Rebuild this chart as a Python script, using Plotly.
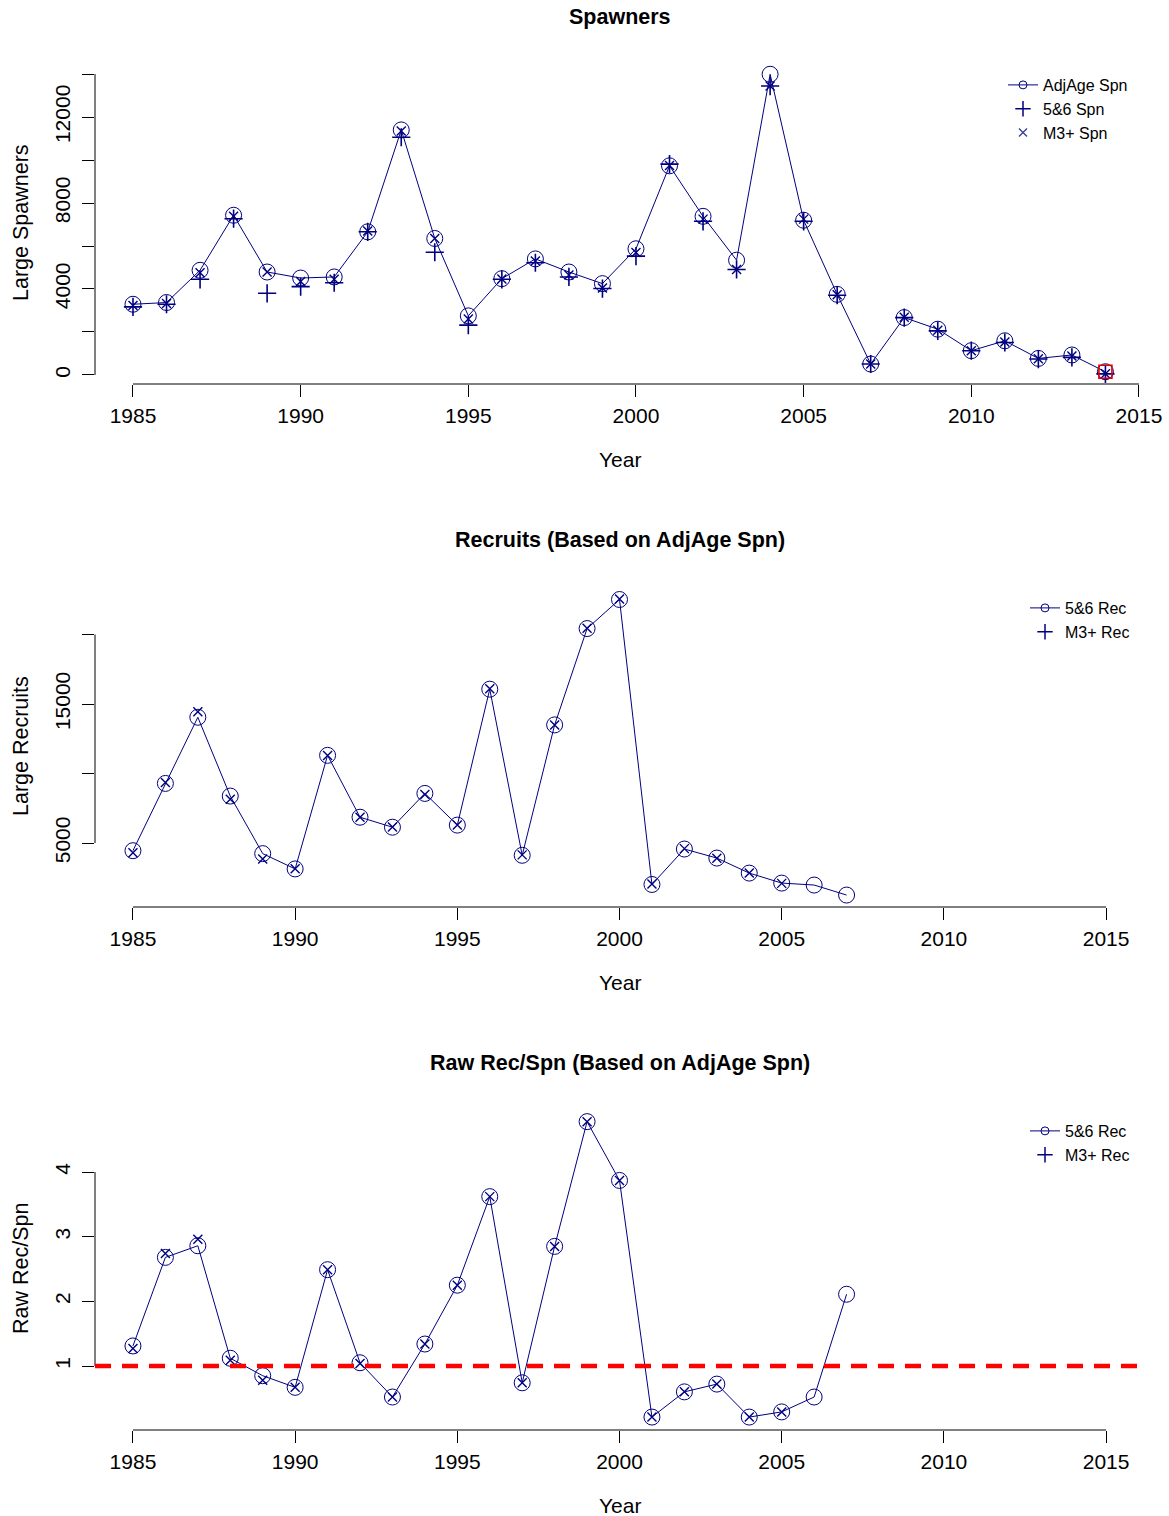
import plotly.graph_objects as go

# ---- data -------------------------------------------------------------
spawner_years = list(range(1985, 2015))
adjage_spn = [3290, 3370, 4870, 7430, 4790, 4510, 4560, 6660, 11400, 6350,
              2750, 4480, 5400, 4790, 4250, 5870, 9730, 7380, 5340, 13990,
              7200, 3750, 510, 2670, 2130, 1130, 1590, 770, 930, 150]
spn_56 = [3170, 3290, 4450, 7270, 3800, 4110, 4290, 6660, 11060, 5710,
          2320, 4450, 5220, 4560, 4020, 5530, 9810, 7150, 4910, 13440,
          7150, 3710, 510, 2670, 2050, 1130, 1510, 740, 820, 50]
spn_m3 = [3230, 3330, 4760, 7380, 4790, 4350, 4450, 6700, 11350, 6350,
          2600, 4470, 5300, 4650, 4050, 5700, 9750, 7250, 4910, 13440,
          7250, 3730, 510, 2690, 2080, 1130, 1530, 750, 880, 60]
flag_year = [2014]
flag_spn = [150]

recruit_years = list(range(1985, 2008))
rec_56 = [4450, 9290, 14050, 8380, 4240, 3140, 11310, 6860, 6140, 8570,
          6290, 16070, 4120, 13500, 20430, 22520, 2020, 4570, 3920, 2840,
          2120, 1980, 1260]
m3_years = list(range(1985, 2006))
rec_m3 = [4300, 9350, 14450, 8150, 3850, 3150, 11300, 6850, 6150, 8500,
          6300, 16100, 4150, 13500, 20450, 22550, 2050, 4600, 3900, 2850,
          2100]

rps_56 = [1.31, 2.68, 2.86, 1.12, 0.85, 0.67, 2.49, 1.05, 0.52, 1.34,
          2.25, 3.62, 0.74, 2.85, 4.78, 3.87, 0.21, 0.60, 0.72, 0.21,
          0.29, 0.52, 2.11]
rps_m3 = [1.27, 2.74, 2.96, 1.09, 0.78, 0.67, 2.49, 1.04, 0.52, 1.34,
          2.25, 3.62, 0.74, 2.85, 4.78, 3.87, 0.21, 0.60, 0.72, 0.21,
          0.29]
replacement = 1

year_ticks = [1985, 1990, 1995, 2000, 2005, 2010, 2015]
spn_ticks = [0, 2000, 4000, 6000, 8000, 10000, 12000, 14000]
spn_labels = ["0", "", "4000", "", "8000", "", "12000", ""]
rec_ticks = [5000, 10000, 15000, 20000]
rec_labels = ["5000", "", "15000", ""]
rps_ticks = [1, 2, 3, 4]
rps_labels = ["1", "2", "3", "4"]

# ---- styling ----------------------------------------------------------
NAVY = "#000080"
FONT = "Liberation Sans, Arial, sans-serif"
W, H = 1169, 1516


def py(px):
    """pixel row -> paper fraction"""
    return 1 - px / H


fig = go.Figure()


def add_panel(xa, ya, xs, circ, xs_x, xvals, legend, names, cross_val=None,
              xs_plus=None):
    fig.add_trace(go.Scatter(
        x=xs, y=circ, mode="lines+markers", xaxis=xa, yaxis=ya,
        line=dict(color=NAVY, width=1),
        marker=dict(symbol="circle-open", size=16, color=NAVY,
                    line=dict(width=1, color=NAVY)),
        showlegend=False, name=names[0]))
    if cross_val is not None:
        fig.add_trace(go.Scatter(
            x=xs_plus, y=cross_val, mode="markers", xaxis=xa, yaxis=ya,
            marker=dict(symbol="cross-thin-open", size=13, color=NAVY,
                        line=dict(width=1.6, color=NAVY)),
            showlegend=False, name=names[1]))
    fig.add_trace(go.Scatter(
        x=xs_x, y=xvals, mode="markers", xaxis=xa, yaxis=ya,
        marker=dict(symbol="x-thin-open", size=9, color=NAVY,
                    line=dict(width=1.4, color=NAVY)),
        showlegend=False, name=names[-1]))
    # legend keys
    fig.add_trace(go.Scatter(
        x=[None], y=[None], mode="lines+markers", xaxis=xa, yaxis=ya,
        line=dict(color=NAVY, width=1),
        marker=dict(symbol="circle-open", size=8, color=NAVY,
                    line=dict(width=1, color=NAVY)),
        name=names[0], legend=legend))
    fig.add_trace(go.Scatter(
        x=[None], y=[None], mode="markers", xaxis=xa, yaxis=ya,
        marker=dict(symbol="cross-thin-open", size=11, color=NAVY,
                    line=dict(width=1.5, color=NAVY)),
        name=names[1], legend=legend))
    if len(names) > 2:
        fig.add_trace(go.Scatter(
            x=[None], y=[None], mode="markers", xaxis=xa, yaxis=ya,
            marker=dict(symbol="x-thin-open", size=8, color="#3a3a9a",
                        line=dict(width=1.3, color="#3a3a9a")),
            name=names[2], legend=legend))


# Spawners panel
add_panel("x", "y", spawner_years, adjage_spn, spawner_years, spn_m3,
          "legend", ["AdjAge Spn", "5&6 Spn", "M3+ Spn"],
          cross_val=spn_56, xs_plus=spawner_years)
fig.add_trace(go.Scatter(
    x=flag_year, y=flag_spn, mode="markers", xaxis="x", yaxis="y",
    marker=dict(symbol="square-open", size=13, color="#e00000",
                line=dict(width=1.6, color="#e00000")),
    showlegend=False, name="flag"))

# Recruits panel
add_panel("x2", "y2", recruit_years, rec_56, m3_years, rec_m3,
          "legend2", ["5&6 Rec", "M3+ Rec"])

# Recruits per spawner panel
add_panel("x3", "y3", recruit_years, rps_56, m3_years, rps_m3,
          "legend3", ["5&6 Rec", "M3+ Rec"])

# ---- axes -------------------------------------------------------------
xdom = [95 / W, 1145 / W]
panels = [
    # (suffix, top px, bottom px, x range, y range, y ticks, y labels)
    ("", 62, 384, [1983.867, 2015.18], [-420, 14560], spn_ticks, spn_labels),
    ("2", 587, 907, [1983.83, 2016.2], [400, 23420], rec_ticks, rec_labels),
    ("3", 1110, 1430, [1983.83, 2016.2], [0.01, 4.96], rps_ticks, rps_labels),
]

tick_font = dict(family=FONT, size=21, color="black")
layout_axes = {}
shapes = []
for suf, top, bot, xr, yr, yt, yl in panels:
    xname = "x" + suf
    yname = "y" + suf
    layout_axes["xaxis" + suf] = dict(
        domain=xdom, range=xr, anchor=yname, showgrid=False, zeroline=False,
        showline=False, ticks="outside", ticklen=12, tickwidth=1,
        tickcolor="black", tickvals=year_ticks,
        ticktext=[str(v) for v in year_ticks], tickfont=tick_font,
        ticklabelstandoff=1, automargin=False, fixedrange=True)
    layout_axes["yaxis" + suf] = dict(
        domain=[py(bot), py(top)], range=yr, anchor=xname, showgrid=False,
        zeroline=False, showline=False, ticks="outside", ticklen=12,
        tickwidth=1, tickcolor="black", tickvals=yt, ticktext=yl,
        tickangle=-90, tickfont=tick_font, ticklabelstandoff=4,
        automargin=False, fixedrange=True)
    # axis lines spanning first to last tick
    shapes.append(dict(type="line", xref=xname, yref=yname + " domain",
                       x0=year_ticks[0], x1=year_ticks[-1], y0=0, y1=0,
                       line=dict(color="black", width=1)))
    shapes.append(dict(type="line", xref=xname + " domain", yref=yname,
                       x0=0, x1=0, y0=yt[0], y1=yt[-1],
                       line=dict(color="black", width=1)))

# replacement line
shapes.append(dict(type="line", xref="x3 domain", yref="y3", x0=0, x1=1,
                   y0=replacement, y1=replacement, layer="above",
                   line=dict(color="#ff0000", width=4.5, dash="16px,11px")))

# ---- titles -----------------------------------------------------------
annotations = []
titles = [("Spawners", 17), ("Recruits (Based on AdjAge Spn)", 540),
          ("Raw Rec/Spn (Based on AdjAge Spn)", 1063)]
for text, ypx in titles:
    annotations.append(dict(text="<b>" + text + "</b>", x=620 / W, y=py(ypx),
                            xref="paper", yref="paper", showarrow=False,
                            xanchor="center", yanchor="middle",
                            font=dict(family=FONT, size=21.5, color="black")))
for ypx in (459, 982, 1505):
    annotations.append(dict(text="Year", x=620 / W, y=py(ypx), xref="paper",
                            yref="paper", showarrow=False, xanchor="center",
                            yanchor="middle",
                            font=dict(family=FONT, size=21, color="black")))
for text, ypx in [("Large Spawners", 223), ("Large Recruits", 746),
                  ("Raw Rec/Spn", 1269)]:
    annotations.append(dict(text=text, x=21 / W, y=py(ypx), xref="paper",
                            yref="paper", showarrow=False, xanchor="center",
                            yanchor="middle", textangle=-90,
                            font=dict(family=FONT, size=21.5, color="black")))

legend_style = dict(font=dict(family=FONT, size=16, color="black"),
                    bgcolor="rgba(0,0,0,0)", borderwidth=0,
                    xanchor="left", yanchor="top", tracegroupgap=0,
                    itemclick=False, itemdoubleclick=False)

fig.update_layout(
    width=W, height=H, autosize=False,
    margin=dict(l=0, r=0, t=0, b=0, autoexpand=False),
    paper_bgcolor="white", plot_bgcolor="white",
    font=dict(family=FONT, color="black"),
    showlegend=True,
    legend=dict(x=1003 / W, y=py(68), **legend_style),
    legend2=dict(x=1025 / W, y=py(591), **legend_style),
    legend3=dict(x=1025 / W, y=py(1114), **legend_style),
    shapes=shapes, annotations=annotations,
    **layout_axes,
)

fig.write_html("out.html")
